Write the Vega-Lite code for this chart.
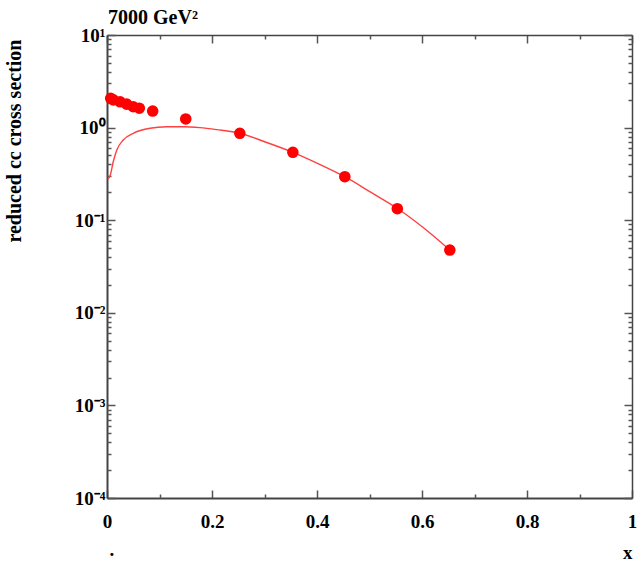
{
  "$schema": "https://vega.github.io/schema/vega-lite/v6.json",
  "width": 525,
  "height": 463,
  "autosize": {"type": "none"},
  "padding": {"left": 107, "top": 35, "right": 6, "bottom": 68},
  "background": "white",
  "title": {"text": "7000 GeV²", "anchor": "start", "frame": "group", "font": "Liberation Serif", "fontSize": 20, "fontWeight": "bold", "color": "black", "offset": -2, "dx": 1},
  "config": {
    "view": {"stroke": null},
    "axis": {
      "grid": false,
      "labelFont": "Liberation Serif",
      "labelFontWeight": "bold",
      "labelFontSize": 19,
      "labelColor": "black",
      "titleFont": "Liberation Serif",
      "titleFontWeight": "bold",
      "titleFontSize": 19,
      "titleColor": "black",
      "domainColor": "#444",
      "domainWidth": 2,
      "tickColor": "#555",
      "tickWidth": 1.5
    }
  },
  "datasets": {
    "points": [
      {"x": 0.007, "y": 2.07},
      {"x": 0.012, "y": 1.99},
      {"x": 0.025, "y": 1.90},
      {"x": 0.0375, "y": 1.79},
      {"x": 0.05, "y": 1.68},
      {"x": 0.0615, "y": 1.62},
      {"x": 0.087, "y": 1.51},
      {"x": 0.15, "y": 1.24},
      {"x": 0.253, "y": 0.868},
      {"x": 0.354, "y": 0.541},
      {"x": 0.453, "y": 0.295},
      {"x": 0.553, "y": 0.133},
      {"x": 0.653, "y": 0.0476}
    ],
    "curve": [
      {"x": 0.002, "y": 0.28},
      {"x": 0.0057, "y": 0.30},
      {"x": 0.012, "y": 0.43},
      {"x": 0.0185, "y": 0.57},
      {"x": 0.031, "y": 0.735},
      {"x": 0.05, "y": 0.868},
      {"x": 0.082, "y": 0.983},
      {"x": 0.114, "y": 1.02},
      {"x": 0.145, "y": 1.023},
      {"x": 0.177, "y": 1.0},
      {"x": 0.209, "y": 0.951},
      {"x": 0.253, "y": 0.868},
      {"x": 0.303, "y": 0.695},
      {"x": 0.354, "y": 0.541},
      {"x": 0.404, "y": 0.404},
      {"x": 0.453, "y": 0.295},
      {"x": 0.503, "y": 0.1995},
      {"x": 0.554, "y": 0.133},
      {"x": 0.604, "y": 0.0818},
      {"x": 0.653, "y": 0.0476}
    ]
  },
  "resolve": {"axis": {"x": "independent", "y": "independent"}},
  "layer": [
    {
      "data": {"name": "curve"},
      "mark": {"type": "line", "color": "#ff4040", "strokeWidth": 1.4, "interpolate": "monotone", "clip": true},
      "encoding": {
        "x": {"field": "x", "type": "quantitative", "scale": {"domain": [0, 1], "nice": false, "zero": false},
          "axis": {"orient": "bottom", "values": [0, 0.2, 0.4, 0.6, 0.8, 1], "format": "~g", "tickSize": -8, "labelPadding": 22, "labelFlush": false, "labelOverlap": false,
            "title": "x", "titleAnchor": "end", "titlePadding": 12}},
        "y": {"field": "y", "type": "quantitative", "scale": {"type": "log", "domain": [0.0001, 10], "nice": false},
          "axis": {"orient": "left", "values": [0.0001, 0.001, 0.01, 0.1, 1, 10], "tickSize": -8, "labelPadding": 10, "labelFlush": false, "labelOverlap": false,
            "labelExpr": "'10' + replace(replace(replace(replace(replace(replace('' + round(log(datum.value)/LN10), '-', '⁻'), '0', '⁰'), '1', '¹'), '2', '²'), '3', '³'), '4', '⁴')",
            "title": "reduced cc cross section", "titleFontSize": 20, "titleAnchor": "end", "titleX": -83, "titleY": 4}}
      }
    },
    {
      "data": {"name": "points"},
      "mark": {"type": "circle", "color": "#ff0000", "opacity": 1, "size": 135},
      "encoding": {
        "x": {"field": "x", "type": "quantitative",
          "axis": {"orient": "top", "values": [0, 0.2, 0.4, 0.6, 0.8, 1], "tickSize": -8, "labels": false, "title": null, "domainWidth": 1.5}},
        "y": {"field": "y", "type": "quantitative",
          "axis": {"orient": "right", "values": [0.0001, 0.001, 0.01, 0.1, 1, 10], "tickSize": -8, "labels": false, "title": null, "domainWidth": 1.5}}
      }
    },
    {
      "data": {"name": "points"},
      "mark": {"type": "point", "opacity": 0},
      "encoding": {
        "x": {"field": "x", "type": "quantitative",
          "axis": {"orient": "bottom", "values": [0.1, 0.3, 0.5, 0.7, 0.9], "tickSize": -4, "labels": false, "domain": false,
            "title": ".", "titleAnchor": "start", "titleX": 2, "titleY": 42}},
        "y": {"field": "y", "type": "quantitative",
          "axis": {"orient": "left", "values": [0.0002, 0.0003, 0.0004, 0.0005, 0.0006, 0.0007, 0.0008, 0.0009, 0.002, 0.003, 0.004, 0.005, 0.006, 0.007, 0.008, 0.009, 0.02, 0.03, 0.04, 0.05, 0.06, 0.07, 0.08, 0.09, 0.2, 0.3, 0.4, 0.5, 0.6, 0.7, 0.8, 0.9, 2, 3, 4, 5, 6, 7, 8, 9], "tickSize": -4, "labels": false, "domain": false, "title": null}}
      }
    },
    {
      "data": {"name": "points"},
      "mark": {"type": "point", "opacity": 0},
      "encoding": {
        "x": {"field": "x", "type": "quantitative",
          "axis": {"orient": "top", "values": [0.1, 0.3, 0.5, 0.7, 0.9], "tickSize": -4, "labels": false, "domain": false, "title": null}},
        "y": {"field": "y", "type": "quantitative",
          "axis": {"orient": "right", "values": [0.0002, 0.0003, 0.0004, 0.0005, 0.0006, 0.0007, 0.0008, 0.0009, 0.002, 0.003, 0.004, 0.005, 0.006, 0.007, 0.008, 0.009, 0.02, 0.03, 0.04, 0.05, 0.06, 0.07, 0.08, 0.09, 0.2, 0.3, 0.4, 0.5, 0.6, 0.7, 0.8, 0.9, 2, 3, 4, 5, 6, 7, 8, 9], "tickSize": -4, "labels": false, "domain": false, "title": null}}
      }
    }
  ]
}
